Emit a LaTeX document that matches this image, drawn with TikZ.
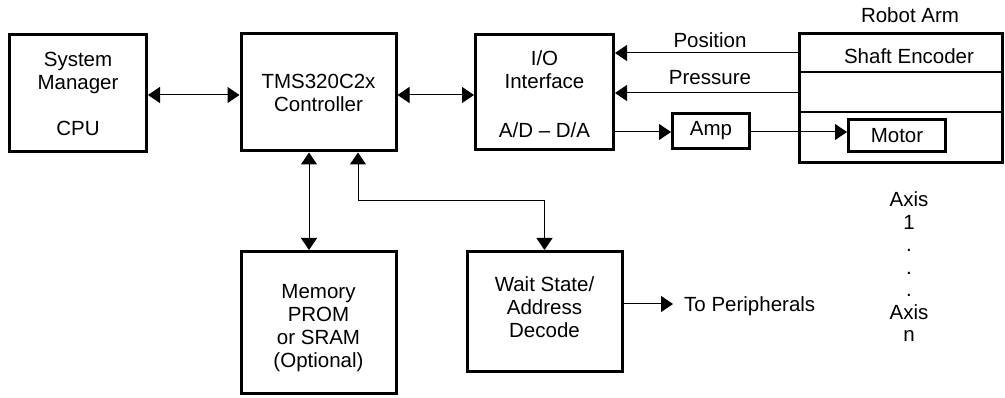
\documentclass[tikz,border=0pt]{standalone}
\usepackage{fontspec}
\setmainfont{Liberation Sans}
\usetikzlibrary{arrows.meta}
\begin{document}
\begin{tikzpicture}[x=1pt,y=-1pt,
  font=\fontsize{20.5}{23}\selectfont,
  box/.style={draw, line width=3pt, inner sep=0pt, align=center},
  inner/.style={inner sep=0pt, align=center},
  conn/.style={line width=1pt},
  tip/.style={-{Triangle[length=12pt,width=16pt]}},
  bitip/.style={{Triangle[length=12pt,width=16pt]}-{Triangle[length=12pt,width=16pt]}},
  txt/.style={inner sep=0pt, anchor=base}]
\useasboundingbox (0,0) rectangle (1005,398);

% boxes
\node[box, minimum width=137pt, minimum height=117pt] (sm) at (78,93.5) {System\\Manager\\[23pt]CPU};
\node[box, minimum width=155pt, minimum height=117pt] (ctrl) at (318.5,92.5) {TMS320C2x\\Controller};
\node[box, minimum width=138pt, minimum height=115pt] (io) at (544.5,92) {};
\node[inner] (iotxt) at ([yshift=-2.5pt]io.center) {I/O\\Interface\\[26pt]A/D – D/A};
\node[box, minimum width=77pt, minimum height=35pt] (amp) at (711,131) {Amp};
\node[box, minimum width=203pt, minimum height=129pt] (arm) at (901,98) {};
\node[box, minimum width=97pt, minimum height=32pt] (motor) at (897,135.5) {Motor};
\node[box, minimum width=155pt, minimum height=142pt] (mem) at (318.5,322.5) {};
\node[inner] (memtxt) at ([yshift=-6pt]mem.center) {Memory\\PROM\\or SRAM\\(Optional)};
\node[box, minimum width=155pt, minimum height=120pt] (ws) at (544.5,311.5) {};
\node[inner] (wstxt) at ([yshift=4pt]ws.center) {Wait State/\\Address\\Decode};

% robot arm separators
\coordinate (s1) at (0,72);
\coordinate (s2) at (0,112);
\draw[line width=1.5pt] (arm.west |- s1) -- (arm.east |- s1);
\draw[line width=1.5pt] (arm.west |- s2) -- (arm.east |- s2);

% texts
\node[txt] (ra) at (910,23) {Robot Arm};
\node[txt] (se) at (909,64) {Shaft Encoder};
\node[txt] (pos) at (710,48) {Position};
\node[txt] (pre) at (710,85) {Pressure};
\node[txt, anchor=base west] (tp) at (684,312) {To Peripherals};
\node[align=center, inner sep=0pt, font=\fontsize{20.5}{22.5}\selectfont] (axis) at (909,267) {Axis\\1\\.\\.\\.\\Axis\\n};

% connectors
\coordinate (ymid) at (0,95);
\draw[conn,bitip] (sm.east |- ymid) -- (ctrl.west |- ymid);
\draw[conn,bitip] (ctrl.east |- ymid) -- (io.west |- ymid);

\coordinate (ypos) at (0,53);
\coordinate (ypre) at (0,93);
\draw[conn,tip] (arm.west |- ypos) -- (io.east |- ypos);
\draw[conn,tip] (arm.west |- ypre) -- (io.east |- ypre);
\coordinate (yamp) at (0,132);
\draw[conn,tip] (io.east |- yamp) -- (amp.west |- yamp);
\draw[conn,tip] (amp.east |- yamp) -- (motor.west |- yamp);

\coordinate (xm) at (309,0);
\draw[conn,bitip] (ctrl.south -| xm) -- (mem.north -| xm);
\coordinate (bend) at (358,201);
\draw[conn,bitip] (ctrl.south -| bend) -- (bend) -| (ws.north);

\coordinate (per) at (673,304);
\draw[conn,tip] (ws.east |- per) -- (per);
\end{tikzpicture}
\end{document}
